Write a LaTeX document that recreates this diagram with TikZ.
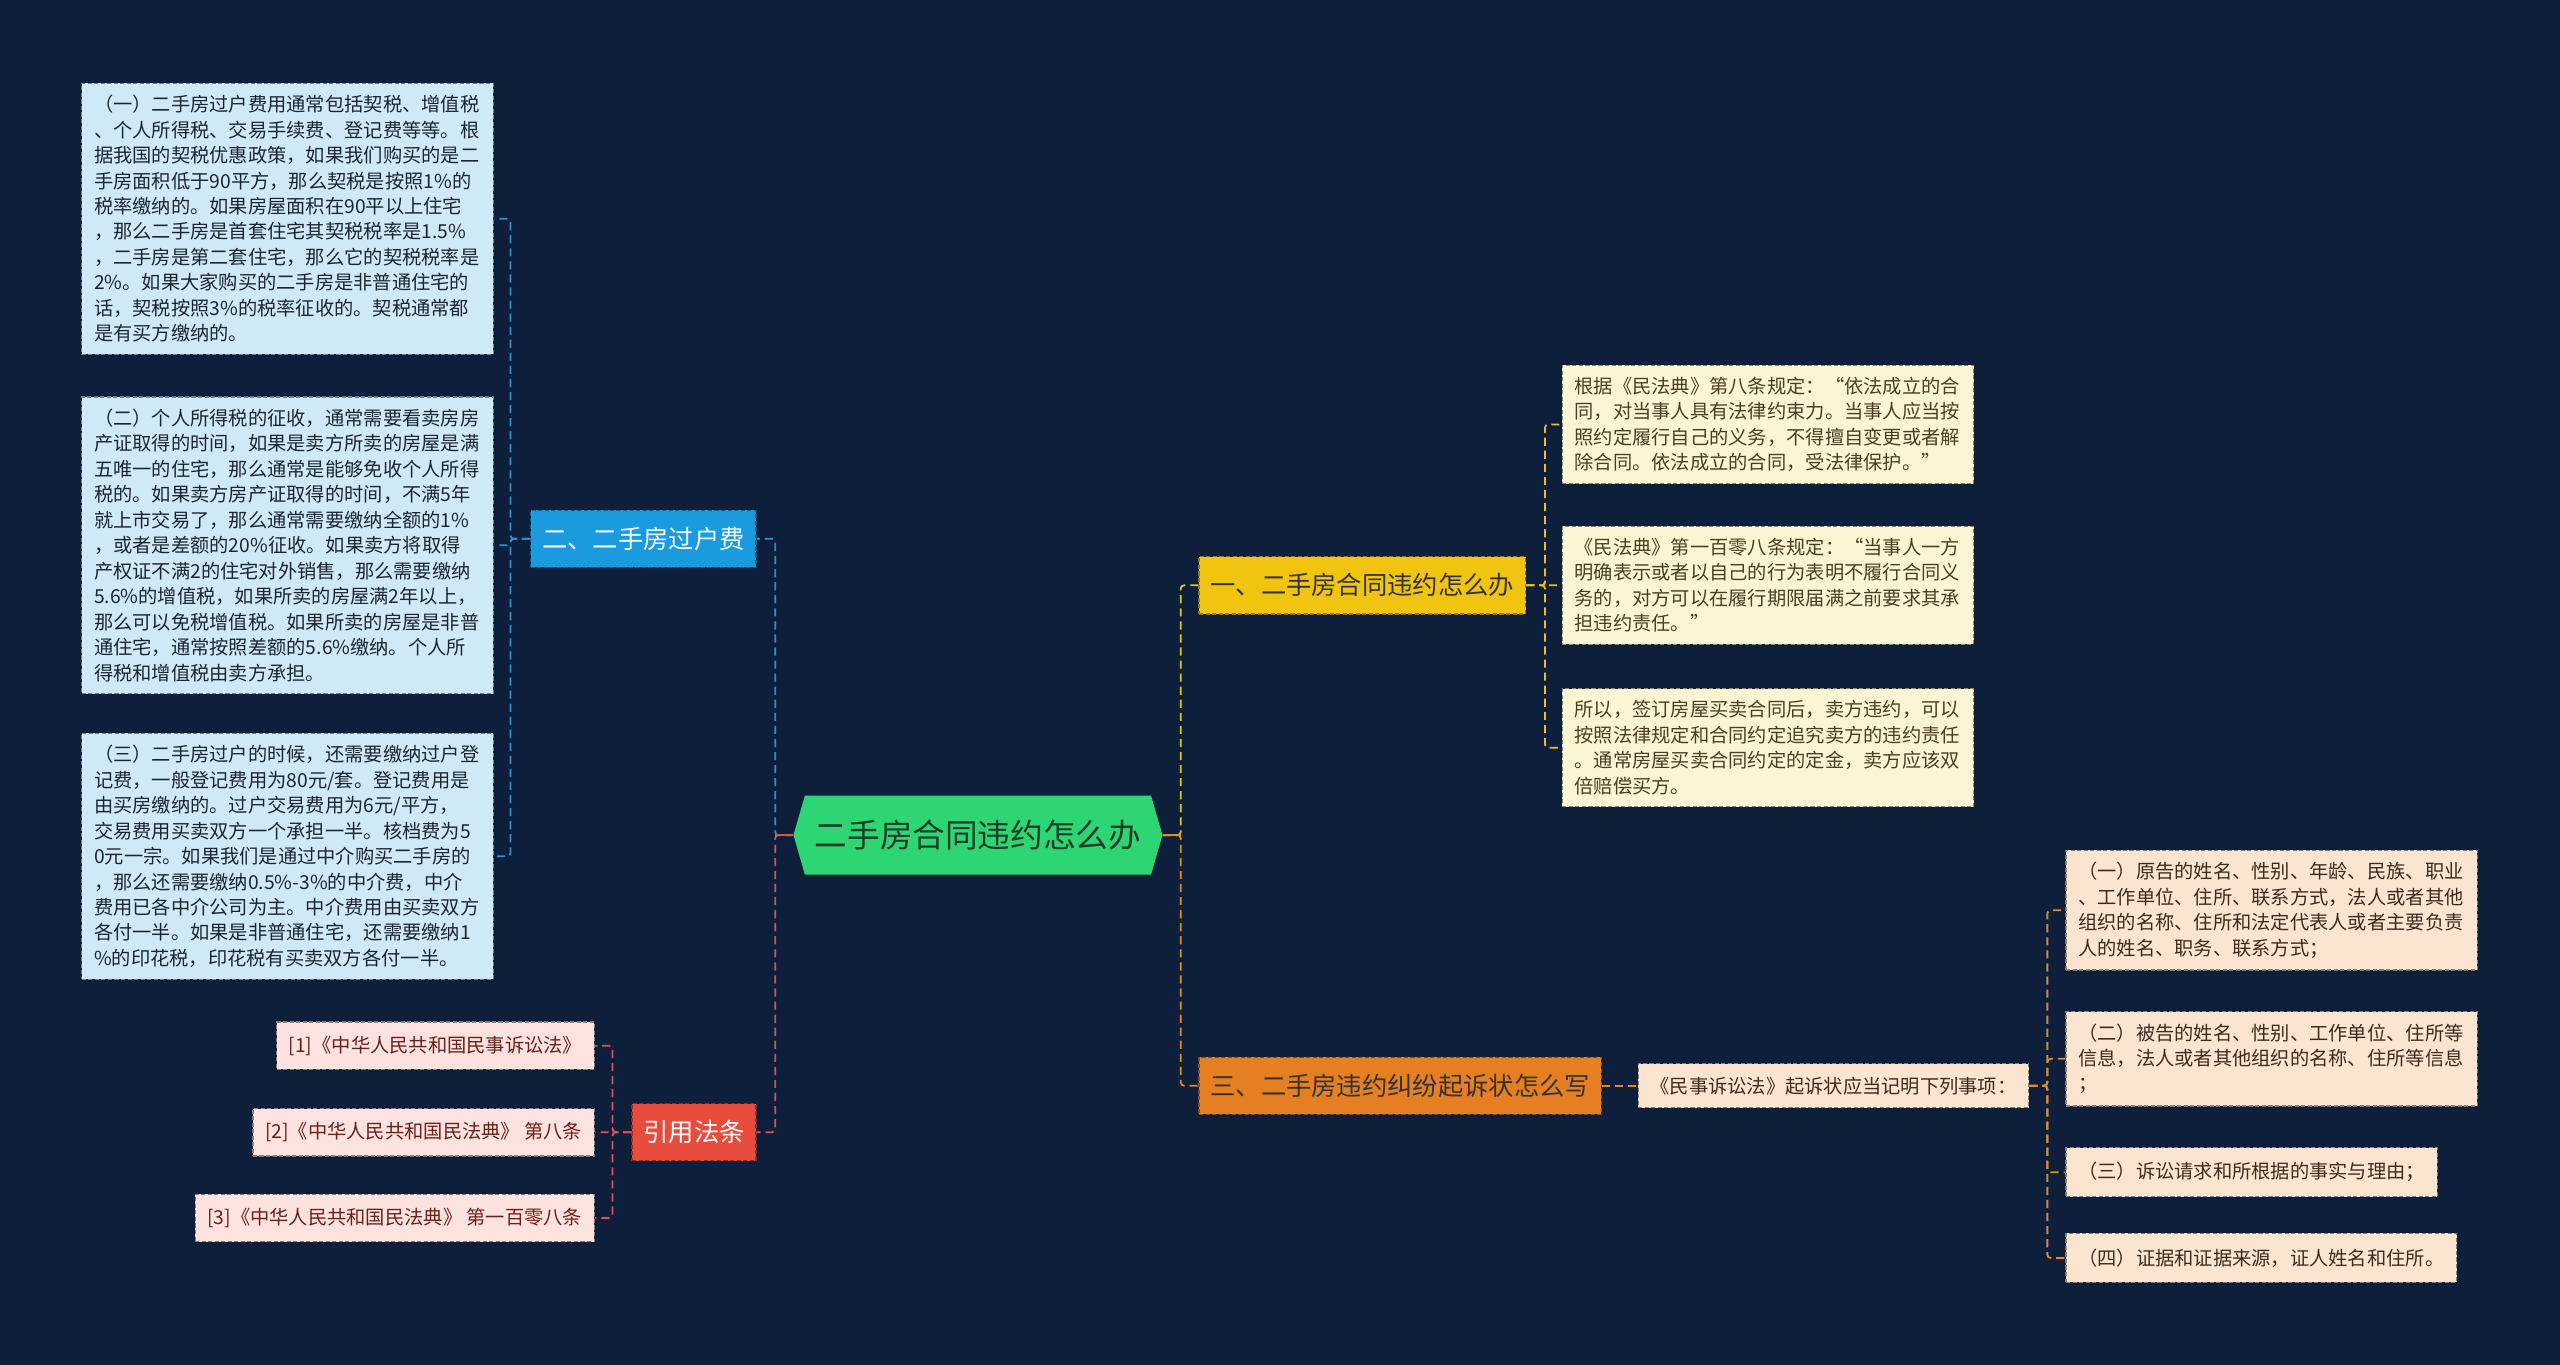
\documentclass[tikz,border=0pt]{standalone}
\usepackage{fontspec}
\setmainfont{Noto Sans CJK SC}
\usepackage{tikz}

\definecolor{bgNavy}{HTML}{0E1F3C}
\definecolor{rootFill}{HTML}{2ED573}
\definecolor{rootText}{HTML}{1D3B2A}
\definecolor{feeFill}{HTML}{CFE9F8}
\definecolor{feeText}{HTML}{1B2631}
\definecolor{ybFill}{HTML}{FCF5D3}
\definecolor{ybText}{HTML}{4A3F22}
\definecolor{refFill}{HTML}{FCE3DF}
\definecolor{refText}{HTML}{6B2018}
\definecolor{pbFill}{HTML}{FBE5D1}
\definecolor{pbText}{HTML}{3E2B1E}
\definecolor{blueFill}{HTML}{1A9BDF}
\definecolor{redFill}{HTML}{E74C3C}
\definecolor{yellowFill}{HTML}{F1C40F}
\definecolor{orangeFill}{HTML}{E67E22}
\definecolor{linkBlue}{HTML}{2B8FD8}
\definecolor{linkRed}{HTML}{D9534F}
\definecolor{linkYellow}{HTML}{E8C21A}
\definecolor{linkOrange}{HTML}{E08A2E}

\begin{document}
\begin{tikzpicture}[
  x=1pt, y=-1pt,
  txt/.style={font=\fontsize{11.8pt}{15.6pt}\selectfont, align=left,
              inner xsep=7.5pt, inner ysep=7.3pt, line width=0.8pt,
              dash pattern=on 2.5pt off 1.5pt},
  feebox/.style={txt, text width=237pt, fill=feeFill, draw=feeFill!55!black, text=feeText},
  ybox/.style={txt, text width=237pt, fill=ybFill, draw=ybFill!55!black, text=ybText},
  pbox/.style={txt, text width=237pt, fill=pbFill, draw=pbFill!55!black, text=pbText},
  pline/.style={txt, minimum height=30pt, fill=pbFill, draw=pbFill!55!black, text=pbText},
  refbox/.style={txt, minimum height=29pt, fill=refFill, draw=refFill!55!black, text=refText},
  branch/.style={font=\fontsize{15.5pt}{18pt}\selectfont, inner xsep=7pt, inner ysep=0pt,
                 minimum height=35pt, line width=0.8pt, dash pattern=on 2.5pt off 1.5pt},
  rootnode/.style={font=\fontsize{20pt}{24pt}\selectfont, text=rootText,
                   minimum width=226pt, minimum height=48.5pt, inner sep=0pt,
                   path picture={\fill[rootFill]
                     ([xshift=7pt]path picture bounding box.north west) --
                     ([xshift=-7pt]path picture bounding box.north east) --
                     (path picture bounding box.east) --
                     ([xshift=-7pt]path picture bounding box.south east) --
                     ([xshift=7pt]path picture bounding box.south west) --
                     (path picture bounding box.west) -- cycle;}},
  link/.style={line width=1.1pt, dash pattern=on 5pt off 3pt, rounded corners=2pt}
]
\fill[bgNavy] (0,0) rectangle (1568,836);
\useasboundingbox (0,0) rectangle (1568,836);

\node[rootnode] (root) at (599,511.5) {二手房合同违约怎么办};

% left branches
\node[branch, fill=blueFill, draw=blueFill!60!black, text=white, anchor=east]
  (b2) at (463.5,330) {二、二手房过户费};
\node[branch, fill=redFill, draw=redFill!60!black, text=white, anchor=east]
  (cite) at (463.5,693.5) {引用法条};

\node[feebox, anchor=east] (fee1) at (302.5,134) {%
（一）二手房过户费用通常包括契税、增值税\\
、个人所得税、交易手续费、登记费等等。根\\
据我国的契税优惠政策，如果我们购买的是二\\
手房面积低于90平方，那么契税是按照1\%的\\
税率缴纳的。如果房屋面积在90平以上住宅\\
，那么二手房是首套住宅其契税税率是1.5\%\\
，二手房是第二套住宅，那么它的契税税率是\\
2\%。如果大家购买的二手房是非普通住宅的\\
话，契税按照3\%的税率征收的。契税通常都\\
是有买方缴纳的。};
\node[feebox, anchor=east] (fee2) at (302.5,334) {%
（二）个人所得税的征收，通常需要看卖房房\\
产证取得的时间，如果是卖方所卖的房屋是满\\
五唯一的住宅，那么通常是能够免收个人所得\\
税的。如果卖方房产证取得的时间，不满5年\\
就上市交易了，那么通常需要缴纳全额的1\%\\
，或者是差额的20\%征收。如果卖方将取得\\
产权证不满2的住宅对外销售，那么需要缴纳\\
5.6\%的增值税，如果所卖的房屋满2年以上，\\
那么可以免税增值税。如果所卖的房屋是非普\\
通住宅，通常按照差额的5.6\%缴纳。个人所\\
得税和增值税由卖方承担。};
\node[feebox, anchor=east] (fee3) at (302.5,524.5) {%
（三）二手房过户的时候，还需要缴纳过户登\\
记费，一般登记费用为80元/套。登记费用是\\
由买房缴纳的。过户交易费用为6元/平方，\\
交易费用买卖双方一个承担一半。核档费为5\\
0元一宗。如果我们是通过中介购买二手房的\\
，那么还需要缴纳0.5\%-3\%的中介费，中介\\
费用已各中介公司为主。中介费用由买卖双方\\
各付一半。如果是非普通住宅，还需要缴纳1\\
\%的印花税，印花税有买卖双方各付一半。};

\node[refbox, anchor=east] (ref1) at (364.5,640.5) {[1]《中华人民共和国民事诉讼法》};
\node[refbox, anchor=east] (ref2) at (364.5,693.5) {[2]《中华人民共和国民法典》 第八条};
\node[refbox, anchor=east] (ref3) at (364.5,746) {[3]《中华人民共和国民法典》 第一百零八条};

% right branches
\node[branch, fill=yellowFill, draw=yellowFill!60!black, text=black!80, anchor=west]
  (b1) at (734,358.5) {一、二手房合同违约怎么办};
\node[branch, fill=orangeFill, draw=orangeFill!60!black, text=black!80, anchor=west]
  (b3) at (734,665) {三、二手房违约纠纷起诉状怎么写};

\node[ybox, anchor=west] (yb1) at (956.5,260) {%
根据《民法典》第八条规定：“依法成立的合\\
同，对当事人具有法律约束力。当事人应当按\\
照约定履行自己的义务，不得擅自变更或者解\\
除合同。依法成立的合同，受法律保护。”};
\node[ybox, anchor=west] (yb2) at (956.5,358.5) {%
《民法典》第一百零八条规定：“当事人一方\\
明确表示或者以自己的行为表明不履行合同义\\
务的，对方可以在履行期限届满之前要求其承\\
担违约责任。”};
\node[ybox, anchor=west] (yb3) at (956.5,458) {%
所以，签订房屋买卖合同后，卖方违约，可以\\
按照法律规定和合同约定追究卖方的违约责任\\
。通常房屋买卖合同约定的定金，卖方应该双\\
倍赔偿买方。};

\node[txt, minimum height=27pt, fill=pbFill, draw=pbFill!55!black, text=pbText, anchor=west]
  (law) at (1003,665) {《民事诉讼法》起诉状应当记明下列事项：};

\node[pbox, anchor=west] (pb1) at (1265,557.5) {%
（一）原告的姓名、性别、年龄、民族、职业\\
、工作单位、住所、联系方式，法人或者其他\\
组织的名称、住所和法定代表人或者主要负责\\
人的姓名、职务、联系方式；};
\node[pbox, anchor=west] (pb2) at (1265,648.5) {%
（二）被告的姓名、性别、工作单位、住所等\\
信息，法人或者其他组织的名称、住所等信息\\
；};
\node[pline, anchor=west] (pb3) at (1265,718) {（三）诉讼请求和所根据的事实与理由；};
\node[pline, anchor=west] (pb4) at (1265,770.5) {（四）证据和证据来源，证人姓名和住所。};

% connectors
\draw[link, linkBlue] (root.west) -- ++(-11,0) |- (b2.east);
\draw[link, linkRed] (root.west) -- ++(-11,0) |- (cite.east);
\draw[linkRed, line width=1.1pt] (root.west) -- ++(-11,0);
\foreach \n in {fee1,fee2,fee3}
  \draw[link, linkBlue] (b2.west) -- ++(-12,0) |- (\n.east);
\foreach \n in {ref1,ref2,ref3}
  \draw[link, linkRed] (cite.west) -- ++(-11.5,0) |- (\n.east);

\draw[link, linkYellow] (root.east) -- ++(11,0) |- (b1.west);
\draw[link, linkOrange] (root.east) -- ++(11,0) |- (b3.west);
\draw[linkOrange, line width=1.1pt] (root.east) -- ++(11,0);
\foreach \n in {yb1,yb2,yb3}
  \draw[link, linkYellow] (b1.east) -- ++(11.5,0) |- (\n.west);
\draw[link, linkOrange] (b3.east) -- (law.west);
\foreach \n in {pb1,pb2,pb3,pb4}
  \draw[link, linkOrange] (law.east) -- ++(11,0) |- (\n.west);
\end{tikzpicture}
\end{document}
